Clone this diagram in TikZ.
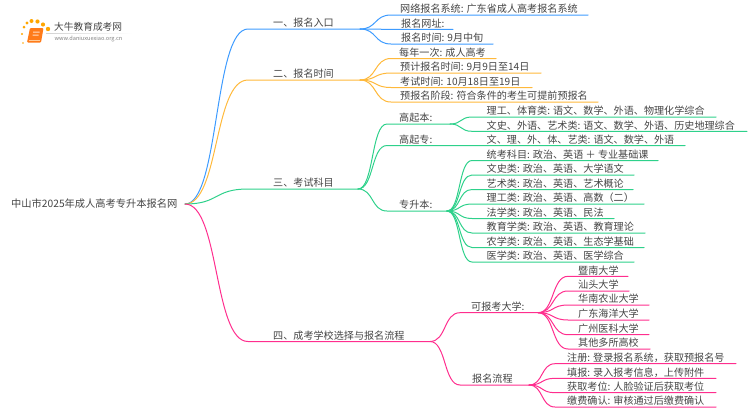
\documentclass[tikz,border=0pt]{standalone}
\usepackage{fontspec}
\setmainfont{Noto Sans CJK SC}
\usetikzlibrary{calc}
\definecolor{cblue}{HTML}{3D9BFF}
\definecolor{corange}{HTML}{FFB93B}
\definecolor{cgreen}{HTML}{2ED18B}
\definecolor{cpink}{HTML}{FF2E8E}
\definecolor{ctext}{HTML}{444444}
\tikzset{
  txt/.style={font=\fontsize{10.1}{12}\selectfont,text=ctext,anchor=west,inner sep=0pt},
  roottxt/.style={txt,font=\fontsize{10.25}{12}\selectfont},
  wire/.style={line width=1pt,line cap=round}
}
% name, parent, colour, x start of flat part, y, x end, x text, text
\newcommand\twig[8]{%
  \coordinate (#1s) at (#4,#5);
  \coordinate (#1e) at (#6,#5);
  \node[txt] (#1) at (#7,#5-6) {#8};
  \draw[wire,#3] let \p1=(#2), \p2=(#1s), \n1={(\x2-\x1)*0.55} in
    (#2) .. controls +({\n1},0) and +({-\n1},0) .. (#1s) -- (#1e);
}
\begin{document}
\begin{tikzpicture}[x=1pt,y=-1pt]
\useasboundingbox (0,0) rectangle (750,410);
% logo
\foreach \a/\b/\r in {22/34/1.2,24/27/1.5,27/23/1.7,31.5/21/2,37.5/21.5/2.1,43/24.5/2.1,48/29/2.2,23/43/0.8}
  \fill[orange!70!yellow] (\a,\b) circle (\r);
\fill[orange!85!red!90,rounded corners=1pt] (30,28) -- (43.5,28) -- (41,42.5) -- (27,42.5) -- cycle;
\draw[orange!40!white,line width=0.8pt] (28.5,40.5) -- (40,40.5);
\fill[white,opacity=.75] (33,31.5) rectangle (39.5,32.5) (32.5,34.5) rectangle (38.5,35.5);
\node[txt,font=\fontsize{9.7}{11}\selectfont] (logotxt) at (54,27) {大牛教育成考网};
\shade[left color=gray!35,right color=white] (46,33) rectangle (132,33.6);
\node[txt,font=\fontsize{5.6}{7}\selectfont,text=gray] (logourl) at (54.5,38.5) {www.daniuxuexiao.org.cn};
% root
\node[roottxt] (root) at (11,204) {中山市2025年成人高考专升本报名网};
\coordinate (r) at (185,204);
% main branches
\twig{a}{r}{cblue}{248}{29}{360}{273}{一、报名入口}
\twig{b}{r}{corange}{248}{80}{360}{273}{二、报名时间}
\twig{c}{r}{cgreen}{248}{189}{358}{273}{三、考试科目}
\twig{d}{r}{cpink}{248}{341.5}{430}{273}{四、成考学校选择与报名流程}
% branch 1
\twig{a1}{ae}{cblue}{391}{15}{588}{400}{网络报名系统: 广东省成人高考报名系统}
\twig{a2}{ae}{cblue}{391}{29.3}{453}{401}{报名网址:}
\twig{a3}{ae}{cblue}{391}{44}{493}{401}{报名时间: 9月中旬}
% branch 2
\twig{b1}{be}{corange}{391}{58.5}{496}{399}{每年一次: 成人高考}
\twig{b2}{be}{corange}{391}{73}{541}{400}{预计报名时间: 9月9日至14日}
\twig{b3}{be}{corange}{391}{87.5}{532}{400}{考试时间: 10月18日至19日}
\twig{b4}{be}{corange}{391}{102}{598}{400}{预报名阶段: 符合条件的考生可提前预报名}
% branch 3
\twig{c1}{ce}{cgreen}{387}{124}{450}{399}{高起本:}
\twig{c2}{ce}{cgreen}{387}{145.5}{685}{399}{高起专:}
\twig{c3}{ce}{cgreen}{387}{211}{447}{399}{专升本:}
\node[txt] (c2t) at (486.5,139.5) {文、理、外、体、艺类: 语文、数学、外语};
\twig{c1a}{c1e}{cgreen}{472}{117}{716}{486.5}{理工、体育类: 语文、数学、外语、物理化学综合}
\twig{c1b}{c1e}{cgreen}{472}{131.3}{747}{486.5}{文史、外语、艺术类: 语文、数学、外语、历史地理综合}
\twig{c3a}{c3e}{cgreen}{472}{160.5}{658}{486.5}{统考科目: 政治、英语 ＋ 专业基础课}
\twig{c3b}{c3e}{cgreen}{472}{175}{634}{486.5}{文史类: 政治、英语、大学语文}
\twig{c3c}{c3e}{cgreen}{472}{189.5}{633}{486.5}{艺术类: 政治、英语、艺术概论}
\twig{c3d}{c3e}{cgreen}{472}{204}{644}{486.5}{理工类: 政治、英语、高数（二）}
\twig{c3e1}{c3e}{cgreen}{472}{218.5}{614}{486.5}{法学类: 政治、英语、民法}
\twig{c3f}{c3e}{cgreen}{472}{233}{645}{486.5}{教育学类: 政治、英语、教育理论}
\twig{c3g}{c3e}{cgreen}{472}{247.5}{644}{486.5}{农学类: 政治、英语、生态学基础}
\twig{c3h}{c3e}{cgreen}{472}{262}{634}{486.5}{医学类: 政治、英语、医学综合}
% branch 4
\twig{d1}{de}{cpink}{460}{312.7}{538}{471}{可报考大学:}
\twig{d2}{de}{cpink}{460}{385}{529}{472}{报名流程}
\twig{d1a}{d1e}{cpink}{568}{276.3}{628}{578}{暨南大学}
\twig{d1b}{d1e}{cpink}{568}{291}{629}{578}{汕头大学}
\twig{d1c}{d1e}{cpink}{568}{305}{649}{578}{华南农业大学}
\twig{d1d}{d1e}{cpink}{568}{320}{649}{578}{广东海洋大学}
\twig{d1f}{d1e}{cpink}{568}{334.7}{649}{578}{广州医科大学}
\twig{d1g}{d1e}{cpink}{568}{349}{650}{578}{其他多所高校}
\twig{d2a}{d2e}{cpink}{555}{363.7}{736}{567}{注册: 登录报名系统，获取预报名号}
\twig{d2b}{d2e}{cpink}{555}{378.3}{716}{567}{填报: 录入报考信息，上传附件}
\twig{d2c}{d2e}{cpink}{555}{392.7}{716}{567}{获取考位: 人脸验证后获取考位}
\twig{d2d}{d2e}{cpink}{555}{407}{716}{567}{缴费确认: 审核通过后缴费确认}
\end{tikzpicture}
\end{document}
